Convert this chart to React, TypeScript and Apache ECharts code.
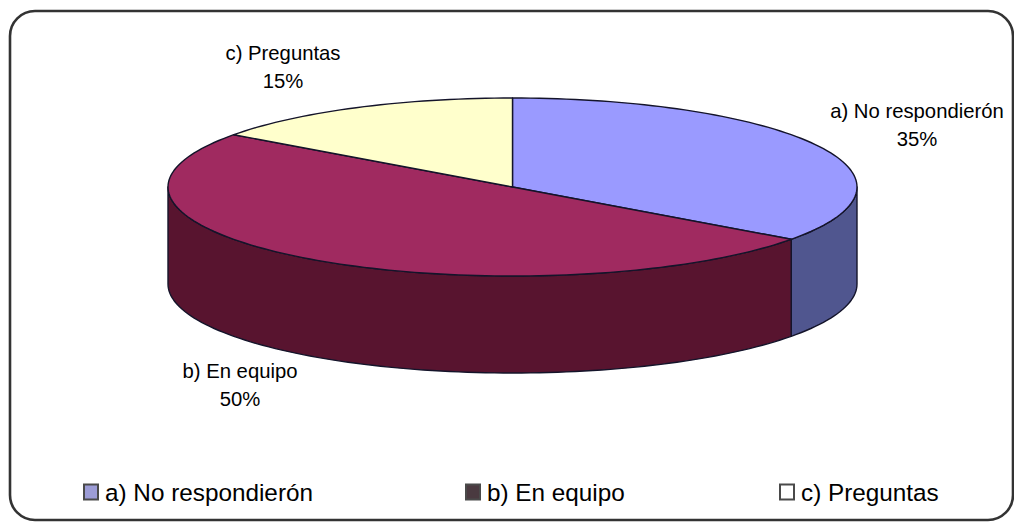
import React, { useEffect, useRef } from "react";
import * as echarts from "echarts";

const categories = ["a) No respondierón", "b) En equipo", "c) Preguntas"];
const values = [35, 50, 15];
const topColors = ["#9a9aff", "#a02a60", "#ffffcc"];
const wallColors = ["#50568f", "#58142f", "#b3b38f"];
const legendIconColors = ["#9c9cd6", "#4a3a40", "#ffffff"];

const W = 1014;
const H = 522;
const CX = 512.5;
const CY = 187;
const RX = 344.5;
const RY = 89;
const DEPTH = 97;
const EDGE = "#14142a";
const FONT = "'Liberation Sans', Arial, sans-serif";
const labelAnchors = [
  [917, 125],
  [240, 385],
  [283, 67],
];
const legendLefts = [83, 465, 779];

const total = values.reduce((a, b) => a + b, 0);

function rim(fromDeg: number, toDeg: number, dy = 0) {
  const pts: number[][] = [];
  const steps = Math.max(2, Math.ceil(Math.abs(toDeg - fromDeg) / 1.5));
  for (let i = 0; i <= steps; i++) {
    const t = ((fromDeg + ((toDeg - fromDeg) * i) / steps) * Math.PI) / 180;
    pts.push([CX + RX * Math.sin(t), CY - RY * Math.cos(t) + dy]);
  }
  return pts;
}

function makeRenderItem(index: number) {
  return (_params: any, api: any) => {
    const value = api.value(0);
    const before = values.slice(0, index).reduce((a, b) => a + b, 0);
    const start = (before / total) * 360;
    const end = start + (value / total) * 360;
    const children: any[] = [];
    const wallFrom = Math.max(start, 90);
    const wallTo = Math.min(end, 270);
    if (wallTo > wallFrom) {
      children.push({
        type: "polygon",
        shape: {
          points: [...rim(wallFrom, wallTo), ...rim(wallFrom, wallTo, DEPTH).reverse()],
        },
        style: { fill: wallColors[index], stroke: EDGE, lineWidth: 1.4, lineJoin: "round" },
      });
    }
    children.push({
      type: "polygon",
      shape: { points: [[CX, CY], ...rim(start, end)] },
      style: { fill: topColors[index], stroke: EDGE, lineWidth: 1.4, lineJoin: "round" },
    });
    children.push({
      type: "text",
      x: labelAnchors[index][0],
      y: labelAnchors[index][1],
      style: {
        text: `${categories[index]}\n${Math.round((value / total) * 100)}%`,
        fill: "#000",
        font: `20.3px ${FONT}`,
        align: "center",
        verticalAlign: "middle",
        lineHeight: 28,
      },
    });
    return { type: "group", children };
  };
}

export default function App() {
  const ref = useRef<HTMLDivElement>(null);
  useEffect(() => {
    const chart = echarts.init(ref.current!, undefined, { renderer: "svg" });
    chart.setOption({
      animation: false,
      backgroundColor: "#ffffff",
      graphic: [
        {
          type: "rect",
          z: 0,
          shape: { x: 10, y: 11, width: 1003, height: 509, r: 25 },
          style: { fill: "#ffffff", stroke: "#333333", lineWidth: 2.6 },
        },
      ],
      legend: categories.map((name, i) => ({
        data: [name],
        left: legendLefts[i],
        top: 480,
        padding: 0,
        itemWidth: 14,
        itemHeight: 15,
        icon: "rect",
        itemStyle: {
          color: legendIconColors[i],
          borderColor: "#4a4a4a",
          borderWidth: 2,
        },
        textStyle: {
          fontFamily: FONT,
          fontSize: 24.3,
          color: "#000",
          padding: [0, 0, 0, 2],
        },
      })),
      series: categories.map((name, i) => ({
        type: "custom",
        name,
        coordinateSystem: "none",
        data: [[values[i]]],
        itemStyle: { color: legendIconColors[i] },
        renderItem: makeRenderItem(i),
      })),
    });
    return () => chart.dispose();
  }, []);
  return (
    <div
      ref={ref}
      style={{ position: "absolute", left: 0, top: 0, width: W, height: H }}
    />
  );
}
